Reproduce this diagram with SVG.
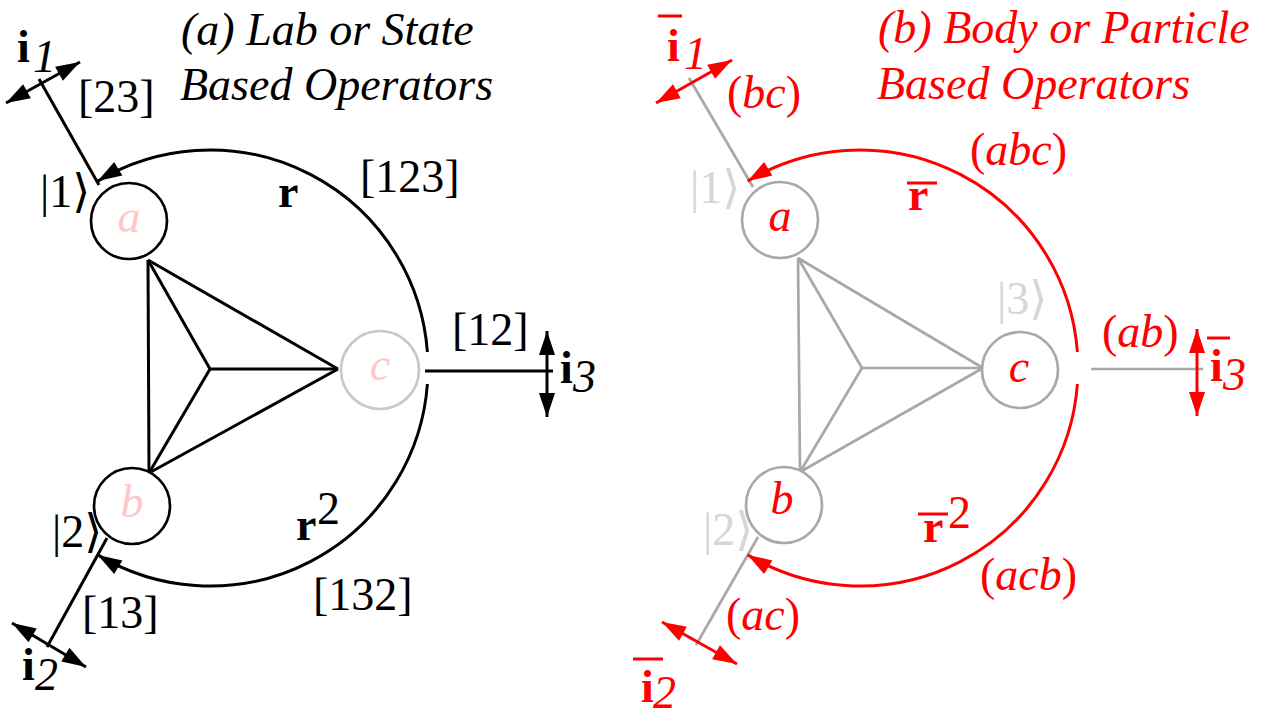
<svg xmlns="http://www.w3.org/2000/svg" width="1270" height="717" viewBox="0 0 1270 717" font-family="'Liberation Serif', 'Times New Roman', Times, 'DejaVu Serif', serif">
<style>
text{font-family:'Liberation Serif','Times New Roman',Times,'DejaVu Serif',serif;font-size:46px}
.it{font-style:italic}
.bd{font-weight:bold}
.k{fill:#000}
.r{fill:#ff0000}
.pk{fill:#ffc8c8}
.lg{fill:#d6d6d6}
.blk{stroke:#000;stroke-width:3;fill:none}
.red{stroke:#ff0000;stroke-width:3;fill:none}
.gry{stroke:#a8a8a8;stroke-width:2.7;fill:none}
.cb{stroke:#000;stroke-width:2.7;fill:#fff}
.cg{stroke:#c8c8c8;stroke-width:2.7;fill:#fff}
.cgr{stroke:#a8a8a8;stroke-width:2.7;fill:#fff}
.bar{stroke:#ff0000;stroke-width:3}
</style>
<defs>
<marker id="ahk" markerUnits="userSpaceOnUse" markerWidth="30" markerHeight="20" viewBox="-26 -10 30 20" refX="0" refY="0" orient="auto-start-reverse"><path d="M-24,-8 L0,0 L-24,8 z" fill="#000"/></marker>
<marker id="ahr" markerUnits="userSpaceOnUse" markerWidth="30" markerHeight="20" viewBox="-26 -10 30 20" refX="0" refY="0" orient="auto-start-reverse"><path d="M-24,-8 L0,0 L-24,8 z" fill="#ff0000"/></marker>
</defs>

<g id="connectors-left">
<g class="blk">
<line x1="148" y1="260" x2="149" y2="473"/>
<line x1="148" y1="260" x2="338" y2="369"/>
<line x1="149" y1="473" x2="338" y2="369"/>
<line x1="148" y1="260" x2="210" y2="369"/>
<line x1="149" y1="473" x2="210" y2="369"/>
<line x1="210" y1="369" x2="338" y2="369"/>
<line x1="99" y1="185" x2="39" y2="79"/>
<line x1="107" y1="538" x2="47" y2="647"/>
<line x1="425" y1="371" x2="553" y2="371"/>
<path d="M427.4,352 A218,218 0 0 0 97.7,181.1" marker-end="url(#ahk)"/>
<path d="M427.4,384 A218,218 0 0 1 97.7,554.9" marker-end="url(#ahk)"/>
<line x1="6" y1="103" x2="80" y2="62" marker-start="url(#ahk)" marker-end="url(#ahk)"/>
<line x1="12" y1="623" x2="86" y2="667" marker-start="url(#ahk)" marker-end="url(#ahk)"/>
<line x1="547" y1="331" x2="547" y2="417" marker-start="url(#ahk)" marker-end="url(#ahk)"/>
</g>
</g>

<g id="node-a-left"><circle class="cb" cx="129" cy="221" r="38"/><text class="it pk" x="129" y="232" text-anchor="middle" font-size="44">a</text></g>
<g id="node-b-left"><circle class="cb" cx="132" cy="506" r="38"/><text class="it pk" x="132" y="517" text-anchor="middle" font-size="44">b</text></g>
<g id="node-c-left"><circle class="cg" cx="380" cy="370" r="39"/><text class="it pk" x="380" y="380" text-anchor="middle" font-size="44">c</text></g>

<g id="labels-left" class="k">
<text class="it" x="181" y="45" font-size="47">(a) Lab or State</text>
<text class="it" x="180" y="100" font-size="47">Based Operators</text>
<text x="17" y="62" font-size="44" class="bd">i</text><text x="33" y="72" font-size="42" class="it">1</text>
<text x="78" y="112">[23]</text>
<text x="360" y="192">[123]</text>
<text x="278" y="207" class="bd" font-size="44">r</text>
<text x="40" y="207" font-size="44">|1⟩</text>
<text x="52" y="547" font-size="44">|2⟩</text>
<text x="82" y="628">[13]</text>
<text x="22" y="680" font-size="44" class="bd">i</text><text x="35" y="690" font-size="44" class="it">2</text>
<text x="313" y="610">[132]</text>
<text x="296" y="540" class="bd" font-size="44">r</text><text x="317" y="524" font-size="32">2</text>
<text x="452" y="345">[12]</text>
<text x="560" y="383" font-size="44" class="bd">i</text><text x="573" y="392" font-size="44" class="it">3</text>
</g>

<g id="connectors-right">
<g class="gry">
<line x1="798" y1="258" x2="800" y2="472"/>
<line x1="798" y1="258" x2="983" y2="368"/>
<line x1="800" y1="472" x2="983" y2="368"/>
<line x1="798" y1="258" x2="862" y2="368"/>
<line x1="800" y1="472" x2="862" y2="368"/>
<line x1="862" y1="368" x2="983" y2="368"/>
<line x1="753" y1="187" x2="689" y2="78"/>
<line x1="758" y1="537" x2="696" y2="645"/>
<line x1="1091" y1="369" x2="1203" y2="369"/>
</g>
<g class="red">
<path d="M1077.4,352 A218,218 0 0 0 747.7,181.1" marker-end="url(#ahr)"/>
<path d="M1077.4,384 A218,218 0 0 1 747.7,554.9" marker-end="url(#ahr)"/>
<line x1="656" y1="103" x2="732" y2="60" marker-start="url(#ahr)" marker-end="url(#ahr)"/>
<line x1="662" y1="622" x2="737" y2="664" marker-start="url(#ahr)" marker-end="url(#ahr)"/>
<line x1="1197" y1="329" x2="1197" y2="416" marker-start="url(#ahr)" marker-end="url(#ahr)"/>
</g>
</g>

<g id="node-a-right"><circle class="cgr" cx="780" cy="220" r="38"/><text class="it r" x="780" y="231" text-anchor="middle" font-size="44">a</text></g>
<g id="node-b-right"><circle class="cgr" cx="784" cy="505" r="38"/><text class="it r" x="782" y="514" text-anchor="middle" font-size="44">b</text></g>
<g id="node-c-right"><circle class="cgr" cx="1020" cy="370" r="38"/><text class="it r" x="1019" y="382" text-anchor="middle" font-size="44">c</text></g>

<g id="labels-right" class="r">
<text class="it" x="878" y="43" font-size="47">(b) Body or Particle</text>
<text class="it" x="877" y="99" font-size="47">Based Operators</text>
<line class="bar" x1="658" y1="16" x2="682" y2="16"/>
<text x="667" y="61" font-size="44" class="bd">i</text><text x="684" y="69" font-size="42" class="it">1</text>
<text x="727" y="108">(<tspan class="it">bc</tspan>)</text>
<text x="970" y="165">(<tspan class="it">abc</tspan>)</text>
<line class="bar" x1="907" y1="183" x2="937" y2="183"/>
<text x="908" y="210" class="bd" font-size="44">r</text>
<text x="997" y="314" font-size="44" class="lg">|3⟩</text>
<text x="690" y="203" font-size="44" class="lg">|1⟩</text>
<text x="703" y="545" font-size="44" class="lg">|2⟩</text>
<text x="1102" y="347">(<tspan class="it">ab</tspan>)</text>
<line class="bar" x1="1207" y1="338" x2="1230" y2="338"/>
<text x="1210" y="381" font-size="44" class="bd">i</text><text x="1223" y="390" font-size="44" class="it">3</text>
<text x="726" y="630">(<tspan class="it">ac</tspan>)</text>
<line class="bar" x1="633" y1="659" x2="663" y2="659"/>
<text x="641" y="702" font-size="44" class="bd">i</text><text x="653" y="708" font-size="42" class="it">2</text>
<line class="bar" x1="918" y1="514" x2="948" y2="514"/>
<text x="923" y="542" class="bd" font-size="44">r</text><text x="948" y="528" font-size="32">2</text>
<text x="980" y="590">(<tspan class="it">acb</tspan>)</text>
</g>
</svg>
